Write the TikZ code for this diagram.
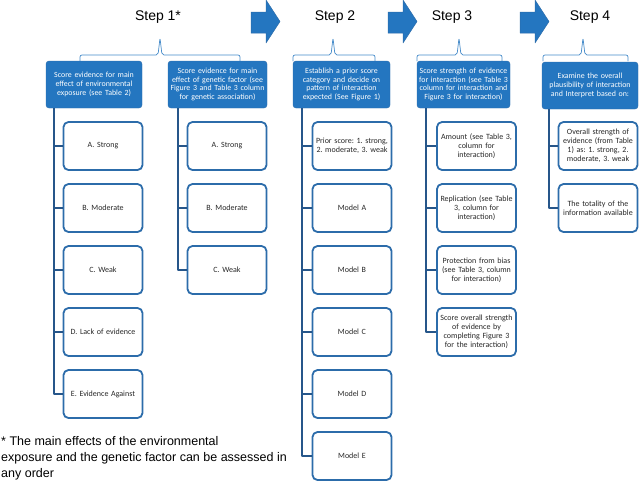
\documentclass[tikz,border=0pt]{standalone}
\usepackage{fontspec}
\setmainfont{Carlito}
\newfontfamily\headfont{Liberation Sans}
\usetikzlibrary{positioning}
\definecolor{stepblue}{RGB}{36,118,192}
\definecolor{edgeblue}{RGB}{44,108,170}
\definecolor{lineblue}{RGB}{38,86,138}
\definecolor{boxtext}{RGB}{40,40,40}
\frenchspacing
\begin{document}
\begin{tikzpicture}[x=1pt,y=-1pt,line join=round,line cap=round]
\useasboundingbox (0,0) rectangle (640,483);
\tikzset{
  head/.style={draw=edgeblue,fill=stepblue,rounded corners=3pt,text=white,align=center,
    font=\fontsize{7.9}{8.8}\selectfont,inner sep=1pt,minimum height=47pt},
  item/.style={draw=edgeblue,line width=1.8pt,fill=white,rounded corners=5pt,align=center,
    text=boxtext,font=\fontsize{8}{9}\selectfont,minimum width=79pt,minimum height=48pt,
    text width=75pt,inner sep=0pt},
  conn/.style={draw=lineblue,line width=1.8pt,line cap=butt},
  bracket/.style={draw=stepblue!85,line width=0.7pt,rounded corners=2pt},
  title/.style={font=\headfont\fontsize{14}{16}\selectfont},
  stepnote/.style={font=\headfont\fontsize{12.5}{16}\selectfont,align=left,inner sep=0pt}
}
% step titles
\node[title] (s1) at (158,17) {Step 1*};
\node[title] (s2) at (335,17) {Step 2};
\node[title] (s3) at (452,17) {Step 3};
\node[title] (s4) at (590,17) {Step 4};
% big arrows between the steps
\foreach \ax in {251,388,520}
  \filldraw[fill=stepblue,draw=edgeblue,line width=0.5pt]
    (\ax,12) -- (\ax+15,12) -- (\ax+15,0) -- (\ax+29,21.5) -- (\ax+15,43)
    -- (\ax+15,33) -- (\ax,33) -- cycle;
% brackets under the titles
\foreach \l/\t/\r in {80/160/240,293/333/375,417/459/502,543/583/628}
  \draw[bracket] (\l,61) |- (\t-2,55) -- (\t,38) -- (\t+2,55) -| (\r,61);
% header boxes
\node[head,minimum width=96pt,text width=92pt] (envhead) at (94,84.5)
  {Score evidence for main\\effect of environmental\\exposure  (see Table 2)};
\node[head,minimum width=99pt,text width=97pt] (genhead) at (217.5,84.5)
  {Score evidence for main\\effect of genetic factor  (see\\Figure 3 and Table 3 column\\for genetic association)};
\node[head,minimum width=97pt,text width=93pt] (priorhead) at (341.5,84.5)
  {Establish a prior score\\category and decide on\\pattern of interaction\\expected (See Figure 1)};
\node[head,minimum width=93pt,text width=91pt] (inthead) at (463.5,84.5)
  {Score  strength of evidence\\for interaction (see Table 3\\column for interaction and\\Figure 3 for interaction)};
\node[head,minimum width=96pt,text width=92pt] (plaushead) at (590,85.5)
  {Examine the overall\\plausibility of interaction\\and Interpret based on:};
% step 1, environmental exposure
\foreach \lab [count=\i] in {A. Strong,B. Moderate,C. Weak,D. Lack of evidence,E. Evidence Against}
  \node[item] (env\i) at (103,84+62*\i) {\lab};
\foreach \i in {1,...,5}
  \draw[conn] ([xshift=8pt]envhead.south west) |- (env\i.west);
% step 1, genetic factor
\foreach \lab [count=\i] in {A. Strong,B. Moderate,C. Weak}
  \node[item] (gen\i) at (227,84+62*\i) {\lab};
\foreach \i in {1,...,3}
  \draw[conn] ([xshift=10pt]genhead.south west) |- (gen\i.west);
% step 2
\foreach \lab [count=\i] in {{Prior score: 1. strong,\\2. moderate, 3. weak},Model A,Model  B,Model C,Model D,Model E}
  \node[item] (prior\i) at (352,84+62*\i) {\lab};
\foreach \i in {1,...,6}
  \draw[conn] ([xshift=9pt]priorhead.south west) |- (prior\i.west);
% step 3
\foreach \lab [count=\i] in {{Amount (see Table 3,\\column for\\interaction)},
    {Replication (see Table\\3, column for\\interaction)},
    {Protection from bias\\(see Table 3, column\\for interaction)},
    {Score  overall strength\\of evidence by\\completing Figure 3\\for the interaction)}}
  \node[item] (int\i) at (476.5,84+62*\i) {\lab};
\foreach \i in {1,...,4}
  \draw[conn] ([xshift=9pt]inthead.south west) |- (int\i.west);
% step 4
\foreach \lab [count=\i] in {{Overall strength of\\evidence  (from Table\\1) as: 1. strong, 2.\\moderate, 3. weak},
    {The totality of the\\information available}}
  \node[item] (plaus\i) at (598,84+62*\i) {\lab};
\foreach \i in {1,2}
  \draw[conn] ([xshift=7pt]plaushead.south west) |- (plaus\i.west);
% footnote
\node[stepnote,anchor=north west] (note) at (1,436)
  {* The main effects of the environmental\\exposure and the genetic factor can be assessed in\\any order};
\end{tikzpicture}
\end{document}
